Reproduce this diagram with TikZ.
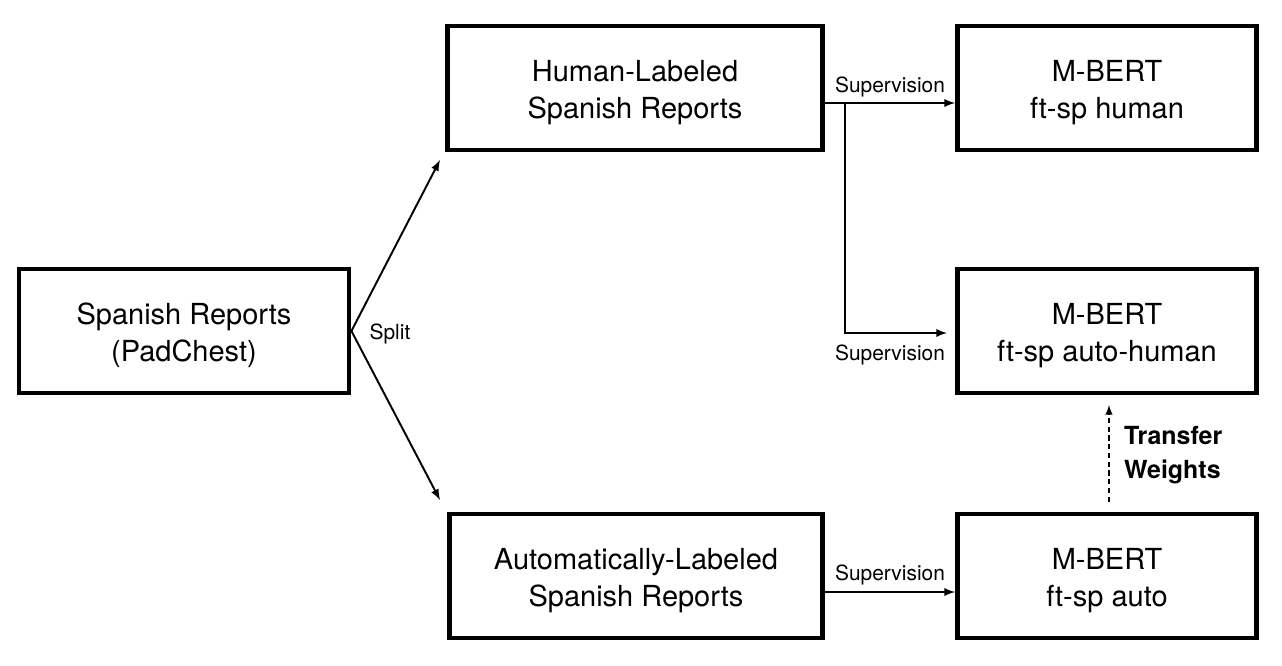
\documentclass[tikz,border=0pt]{standalone}
\usepackage{fontspec}
\setmainfont{TeX Gyre Heros}
\usetikzlibrary{arrows,positioning}
\newcommand{\boxfont}{\fontsize{16.5}{21}\selectfont}
\newcommand{\labfont}{\fontsize{11.9}{14}\selectfont}
\newcommand{\lift}{\rule{0pt}{17pt}}

\begin{document}
\begin{tikzpicture}[x=0.02cm, y=-0.02cm,
		>=latex,
		databox/.style={rectangle,draw,line width=2.8pt,align=center,font=\boxfont,
			minimum height=2.48cm,inner sep=0pt},
		modelbox/.style={databox,minimum width=5.98cm},
		lab/.style={font=\labfont,inner sep=1pt},
		flow/.style={->,line width=1.1pt}]

		\useasboundingbox (0,0) rectangle (1282,666);

		\node[databox,minimum width=6.6cm] (spanish) at (184, 331) {\lift Spanish Reports\\(PadChest)};
		\node[databox,minimum width=7.5cm] (human) at (635, 88) {\lift Human-Labeled\\Spanish Reports};
		\node[databox,minimum width=7.46cm] (autolab) at (636, 576) {\lift Automatically-Labeled\\Spanish Reports};

		\node[modelbox] (bhuman) at (1107, 88) {\lift M-BERT\\ft-sp human};
		\node[modelbox] (bautohuman) at (1107, 331) {\lift M-BERT\\ft-sp auto-human};
		\node[modelbox] (bauto) at (1107, 576) {\lift M-BERT\\ft-sp auto};

		\coordinate (hsplit) at (440, 160);
		\coordinate (asplit) at (440, 500);
		\coordinate (fork) at (845, 103);
		\coordinate (sup2) at (947, 333);
		\coordinate (supb) at (890, 592);

		\draw[flow] (spanish.east) to (hsplit);
		\draw[flow] (spanish.east) to (asplit);
		\node[lab] (split) at (390, 334) {Split};

		\draw[flow] (human.east |- fork) to (bhuman.west |- fork);
		\draw[line width=1.1pt,->] (fork) |- (sup2);
		\draw[flow] (autolab.east |- supb) to (bauto.west |- supb);
		\node[lab] (sup1l) at (890, 87) {Supervision};
		\node[lab] (sup2l) at (890, 355) {Supervision};
		\node[lab] (sup3l) at (890, 575) {Supervision};

		\draw[->,line width=0.9pt,dash pattern=on 3pt off 2pt,shorten <=0.19cm,shorten >=0.19cm]
			([xshift=0.04cm]bauto.north) to ([xshift=0.04cm]bautohuman.south);
		\node[anchor=west,align=left,font=\fontsize{14.2}{19}\selectfont\bfseries] (tw) at (1118, 455) {Transfer\\Weights};

\end{tikzpicture}
\end{document}
